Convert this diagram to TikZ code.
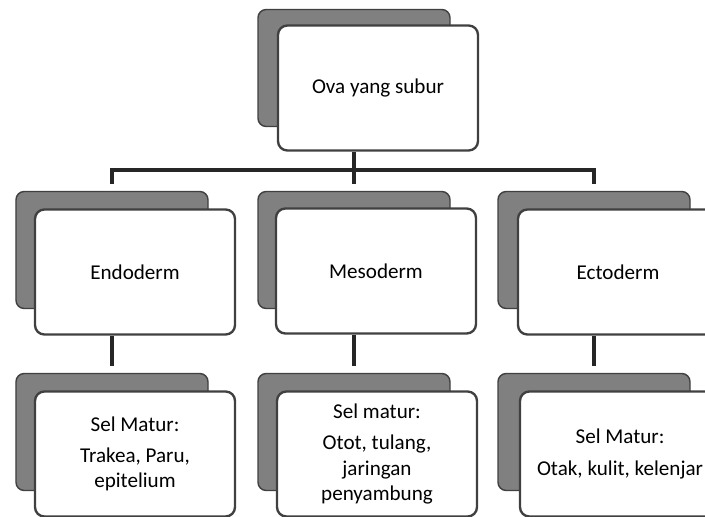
\documentclass[tikz,border=0pt]{standalone}
\usepackage{fontspec}
\setmainfont{Carlito}
\usetikzlibrary{positioning}

\begin{document}
\begin{tikzpicture}[
    x=0.3mm, y=-0.3mm,
    back/.style={draw=black!75, line width=1.2pt, fill=black!50, rounded corners=7pt, minimum width=5.76cm, minimum height=3.51cm},
    front/.style={draw=black!75, line width=2pt, fill=white, rounded corners=8pt, minimum width=6cm, minimum height=3.75cm, align=center, font=\fontsize{18}{21.5}\selectfont, text=black},
    link/.style={line width=3.5pt, black!85, shorten >=2mm}
]
\path[use as bounding box, clip] (0,0) rectangle (705,516);

% top
\node[back] (ovaback) at (354,68) {};
\node[front] (ova) at (378,88) {Ova yang subur};

% germ layers
\node[back] (endoback) at (112,250) {};
\node[front] (endo) at (135,272) {Endoderm};
\node[back] (mesoback) at (354,250) {};
\node[front] (meso) at (376,271) {Mesoderm};
\node[back] (ectoback) at (594,250) {};
\node[front] (ecto) at (618,272) {Ectoderm};

% mature cells
\node[back] (endoselback) at (112,432) {};
\node[front] (endosel) at (135,454) {Sel Matur:\\[5pt]Trakea, Paru,\\epitelium};
\node[back] (mesoselback) at (354,432) {};
\node[front] (mesosel) at (377,454) {Sel matur:\\[5pt]Otot, tulang,\\jaringan\\penyambung};
\node[back] (ectoselback) at (594,432) {};
\node[front] (ectosel) at (620,454) {Sel Matur:\\[5pt]Otak, kulit, kelenjar};

\coordinate (bar) at (0,170);
\draw[link] (ovaback |- ova.south) -- (mesoback.north);
\draw[link, shorten <=2mm] (endoback.north) |- (ectoback.north |- bar) -- (ectoback.north);
\draw[link] (endoback |- endo.south) -- (endoselback.north);
\draw[link] (mesoback |- meso.south) -- (mesoselback.north);
\draw[link] (ectoback |- ecto.south) -- (ectoselback.north);
\end{tikzpicture}
\end{document}
